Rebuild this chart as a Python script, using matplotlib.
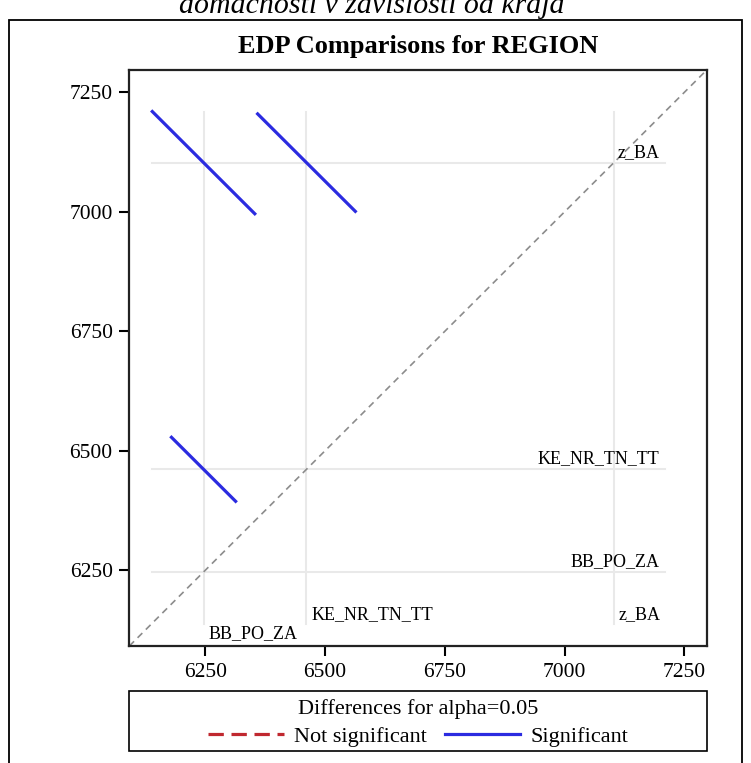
import numpy as np
import matplotlib
matplotlib.use("Agg")
import matplotlib.pyplot as plt
from matplotlib.patches import Rectangle
from matplotlib.lines import Line2D

# group means (LS-means) per region
groups = ["BB_PO_ZA", "KE_NR_TN_TT", "z_BA"]
means = [6246, 6461, 7103]

# pairwise comparisons: (i, j, half width of the difference CI, significant?)
pair_i = [0, 1, 0]
pair_j = [2, 2, 1]
half_ci = [107, 102, 67]
signif = [True, True, True]

axis_lim = (6091, 7297)
ticks = [6250, 6500, 6750, 7000, 7250]

plt.rcParams['font.family'] = ['Liberation Serif', 'DejaVu Serif']

fig = plt.figure(figsize=(7.51, 7.63), dpi=100)
ax = fig.add_axes([0.1722, 0.1533, 0.7689, 0.755])

# outer frame and cut off title
fig.patches.append(Rectangle((9 / 751, -0.05), 733 / 751, 1 - 20 / 763 + 0.05,
                             transform=fig.transFigure, fill=False,
                             edgecolor='black', linewidth=1.3))
fig.text(0.495, 1 - 13 / 763, "domácnosti v závislosti od kraja", ha='center',
         va='baseline', fontsize=21.5, style='italic')
fig.text(0.557, 1 - 46 / 763, "EDP Comparisons for REGION", ha='center', va='center',
         fontsize=19, fontweight='bold')

# segments extent for reference lines
lo = min(means[i] - h for i, h in zip(pair_i, half_ci))
hi = max(means[j] + h for j, h in zip(pair_j, half_ci))

grid_c = '#e9e9e9'
for k, m in enumerate(means):
    ax.plot([lo, hi], [m, m], color=grid_c, lw=1.5, zorder=1)
    ax.plot([m, m], [lo - 1, hi], color=grid_c, lw=1.5, zorder=1)
    ax.text(hi - 12, m + 4, groups[k], ha='right', va='bottom', fontsize=13)
    yb = 6116 if k == 0 else 6156
    ax.text(m + 10, yb, groups[k], ha='left', va='center', fontsize=13)

# diagonal
ax.plot(axis_lim, axis_lim, color='#8c8c8c', lw=1.2, ls=(0, (4, 3)), zorder=2)

# comparison segments
for i, j, h, s in zip(pair_i, pair_j, half_ci, signif):
    col = '#2b2be0' if s else '#c0282f'
    ls = '-' if s else '--'
    ax.plot([means[i] - h, means[i] + h], [means[j] + h, means[j] - h],
            color=col, lw=2.3, ls=ls, zorder=3)

ax.set_xlim(axis_lim)
ax.set_ylim(axis_lim)
ax.set_xticks(ticks)
ax.set_yticks(ticks)
ax.tick_params(labelsize=15.5, length=7, width=1.5, pad=5, direction='out')
for sp in ax.spines.values():
    sp.set_linewidth(1.6)
    sp.set_color('#222222')

# legend box
fig.patches.append(Rectangle((129 / 751, 1 - 751 / 763), 578 / 751, 60 / 763,
                             transform=fig.transFigure, fill=False,
                             edgecolor='black', linewidth=1.2))
handles = [Line2D([], [], color='#c0282f', lw=2.3, ls=(0, (4.8, 2.4))),
           Line2D([], [], color='#2b2be0', lw=2.3)]
fig.legend(handles, ["Not significant", "Significant"], ncol=2, frameon=False,
           title="Differences for alpha=0.05", title_fontsize=16, fontsize=16,
           loc='center', bbox_to_anchor=(0.557, 1 - 723 / 763),
           handlelength=3.4, handletextpad=0.45, columnspacing=0.8,
           borderpad=0, labelspacing=0.3)

fig.savefig("out.png", dpi=100)
